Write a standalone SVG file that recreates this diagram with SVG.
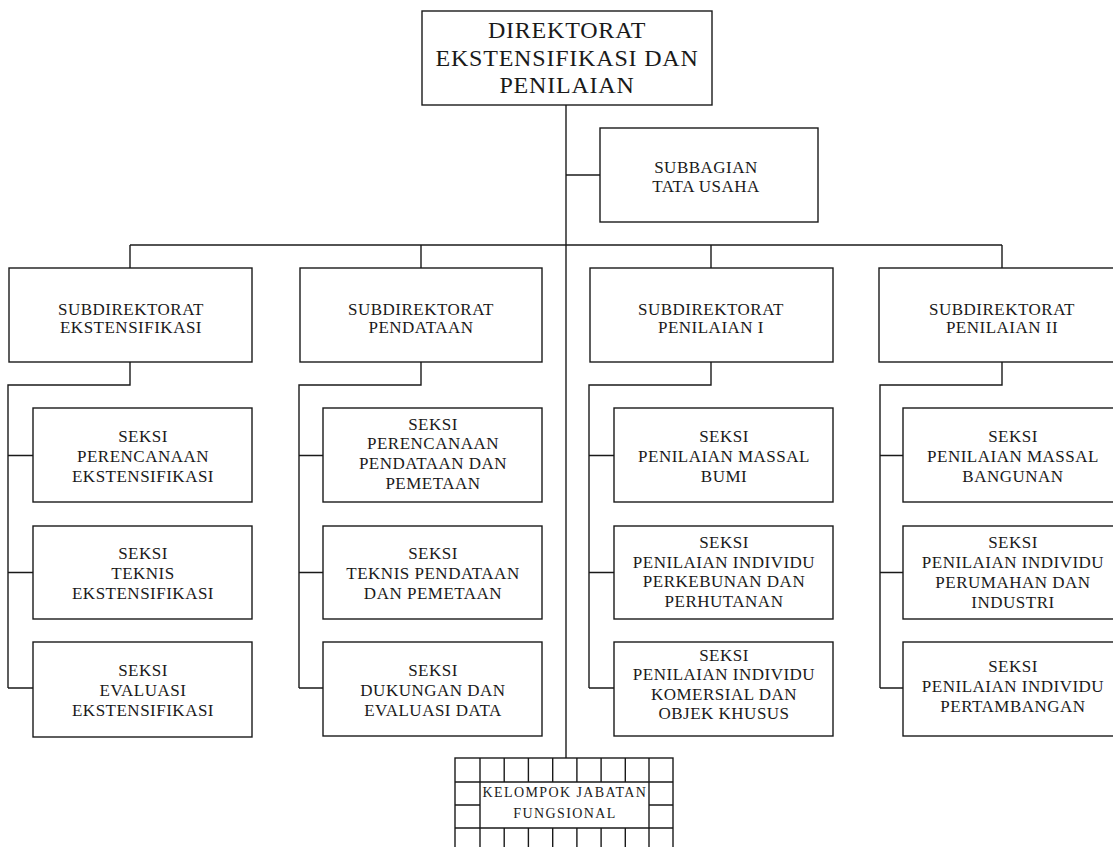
<svg xmlns="http://www.w3.org/2000/svg" width="1113" height="847" viewBox="0 0 1113 847">
<style>
.b{fill:#fff;stroke:#1a1a1a;stroke-width:1.4}
.c{fill:none;stroke:#1a1a1a;stroke-width:1.4}
text{font-family:"Liberation Serif","Times New Roman",serif;fill:#1a1a1a;text-anchor:middle}
.t{font-size:24px;letter-spacing:0.8px}
.s{font-size:17px;letter-spacing:0.5px}
.k{font-size:14px;letter-spacing:1.4px}
</style>
<rect width="1113" height="847" fill="#fff"/>
<g id="connectors" class="c">
<path d="M566 105V758"/>
<path d="M566 175H600"/>
<path d="M130 245H1002"/>
<path d="M130 245V268M421 245V268M711 245V268M1002 245V268"/>
<path d="M130 362V385H8V688M8 455.5H33M8 572.5H33M8 688H33"/>
<path d="M421 362V385H299V688M299 455.5H323M299 572.5H323M299 688H323"/>
<path d="M711 362V385H589V688M589 455.5H614M589 572.5H614M589 688H614"/>
<path d="M1002 362V385H880V688M880 455.5H903M880 572.5H903M880 688H903"/>
</g>
<g id="n-direktorat">
<rect class="b" x="422" y="11" width="290" height="94"/>
<text class="t" x="567" y="38">DIREKTORAT</text>
<text class="t" x="567" y="65.5">EKSTENSIFIKASI DAN</text>
<text class="t" x="567" y="93">PENILAIAN</text>
</g>
<g id="n-subbagian">
<rect class="b" x="600" y="128" width="218" height="94"/>
<text class="s" x="706" y="173">SUBBAGIAN</text>
<text class="s" x="706" y="191.5">TATA USAHA</text>
</g>
<g id="n-sd1">
<rect class="b" x="9" y="268" width="243" height="94"/>
<text class="s" x="131" y="315">SUBDIREKTORAT</text>
<text class="s" x="131" y="333">EKSTENSIFIKASI</text>
</g>
<g id="n-sd2">
<rect class="b" x="300" y="268" width="242" height="94"/>
<text class="s" x="421" y="315">SUBDIREKTORAT</text>
<text class="s" x="421" y="333">PENDATAAN</text>
</g>
<g id="n-sd3">
<rect class="b" x="590" y="268" width="243" height="94"/>
<text class="s" x="711" y="315">SUBDIREKTORAT</text>
<text class="s" x="711" y="333">PENILAIAN I</text>
</g>
<g id="n-sd4">
<rect class="b" x="879" y="268" width="250" height="94"/>
<text class="s" x="1002" y="315">SUBDIREKTORAT</text>
<text class="s" x="1002" y="333">PENILAIAN II</text>
</g>
<g id="n-s11">
<rect class="b" x="33" y="408" width="219" height="94"/>
<text class="s" x="143" y="441.5">SEKSI</text>
<text class="s" x="143" y="461.5">PERENCANAAN</text>
<text class="s" x="143" y="481.5">EKSTENSIFIKASI</text>
</g>
<g id="n-s12">
<rect class="b" x="33" y="526" width="219" height="93"/>
<text class="s" x="143" y="559">SEKSI</text>
<text class="s" x="143" y="579">TEKNIS</text>
<text class="s" x="143" y="599">EKSTENSIFIKASI</text>
</g>
<g id="n-s13">
<rect class="b" x="33" y="642" width="219" height="95"/>
<text class="s" x="143" y="675.5">SEKSI</text>
<text class="s" x="143" y="695.5">EVALUASI</text>
<text class="s" x="143" y="715.5">EKSTENSIFIKASI</text>
</g>
<g id="n-s21">
<rect class="b" x="323" y="408" width="219" height="94"/>
<text class="s" x="433" y="429.5">SEKSI</text>
<text class="s" x="433" y="449.2">PERENCANAAN</text>
<text class="s" x="433" y="468.9">PENDATAAN DAN</text>
<text class="s" x="433" y="488.6">PEMETAAN</text>
</g>
<g id="n-s22">
<rect class="b" x="323" y="526" width="219" height="93"/>
<text class="s" x="433" y="559">SEKSI</text>
<text class="s" x="433" y="579">TEKNIS PENDATAAN</text>
<text class="s" x="433" y="599">DAN PEMETAAN</text>
</g>
<g id="n-s23">
<rect class="b" x="323" y="642" width="219" height="94"/>
<text class="s" x="433" y="675.5">SEKSI</text>
<text class="s" x="433" y="695.5">DUKUNGAN DAN</text>
<text class="s" x="433" y="715.5">EVALUASI DATA</text>
</g>
<g id="n-s31">
<rect class="b" x="614" y="408" width="219" height="94"/>
<text class="s" x="724" y="441.5">SEKSI</text>
<text class="s" x="724" y="461.5">PENILAIAN MASSAL</text>
<text class="s" x="724" y="481.5">BUMI</text>
</g>
<g id="n-s32">
<rect class="b" x="614" y="526" width="219" height="93"/>
<text class="s" x="724" y="548">SEKSI</text>
<text class="s" x="724" y="567.7">PENILAIAN INDIVIDU</text>
<text class="s" x="724" y="587.4">PERKEBUNAN DAN</text>
<text class="s" x="724" y="607.1">PERHUTANAN</text>
</g>
<g id="n-s33">
<rect class="b" x="614" y="642" width="219" height="94"/>
<text class="s" x="724" y="661">SEKSI</text>
<text class="s" x="724" y="680.3">PENILAIAN INDIVIDU</text>
<text class="s" x="724" y="699.6">KOMERSIAL DAN</text>
<text class="s" x="724" y="719">OBJEK KHUSUS</text>
</g>
<g id="n-s41">
<rect class="b" x="903" y="408" width="226" height="94"/>
<text class="s" x="1013" y="441.5">SEKSI</text>
<text class="s" x="1013" y="461.5">PENILAIAN MASSAL</text>
<text class="s" x="1013" y="481.5">BANGUNAN</text>
</g>
<g id="n-s42">
<rect class="b" x="903" y="526" width="226" height="93"/>
<text class="s" x="1013" y="548.3">SEKSI</text>
<text class="s" x="1013" y="568.3">PENILAIAN INDIVIDU</text>
<text class="s" x="1013" y="588.3">PERUMAHAN DAN</text>
<text class="s" x="1013" y="608.3">INDUSTRI</text>
</g>
<g id="n-s43">
<rect class="b" x="903" y="642" width="226" height="94"/>
<text class="s" x="1013" y="671.7">SEKSI</text>
<text class="s" x="1013" y="691.7">PENILAIAN INDIVIDU</text>
<text class="s" x="1013" y="711.7">PERTAMBANGAN</text>
</g>
<g id="n-fungsional">
<rect class="b" x="455" y="758" width="218" height="100"/>
<path class="c" d="M455 782H673M455 828H673M455 805H480M649 805H673M480 758V858M649 758V858M504.2 758V782M528.4 758V782M552.7 758V782M576.9 758V782M601.1 758V782M625.3 758V782M504.2 828V858M528.4 828V858M552.7 828V858M576.9 828V858M601.1 828V858M625.3 828V858"/>
<text class="k" x="565" y="797.3">KELOMPOK JABATAN</text>
<text class="k" x="565" y="818.3">FUNGSIONAL</text>
</g>
</svg>
